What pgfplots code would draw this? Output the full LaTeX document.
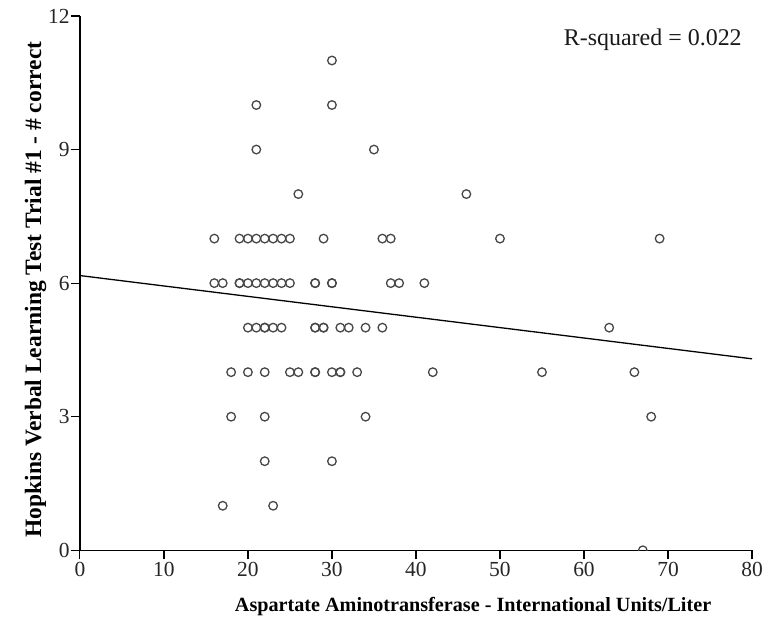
\documentclass[border=0pt]{standalone}
\usepackage{fontspec}
\setmainfont{Liberation Serif}
\usepackage{pgfplots}
\pgfplotsset{compat=1.18}
\begin{document}
\begin{tikzpicture}
\begin{axis}[
  width=673pt, height=535pt, scale only axis,
  xmin=0, xmax=80, ymin=0, ymax=12,
  enlargelimits=false,
  axis lines=left,
  axis line style={-, line width=1.3pt, black},
  xtick={0,10,...,80}, ytick={0,3,6,9,12},
  tick align=outside,
  major tick length=9pt,
  tick style={line width=1.2pt, black},
  /pgf/number format/assume math mode=true,
  tick label style={font=\fontsize{21.5}{22}\selectfont, text=black!85, inner sep=1pt},
  xticklabel style={yshift=-2pt},
  yticklabel style={xshift=0pt},
  xlabel={Aspartate Aminotransferase - International Units/Liter},
  ylabel={Hopkins Verbal Learning Test Trial \#1 - \# correct},
  xlabel style={at={(axis description cs:0.585,-0.105)}, anchor=center, font=\bfseries\fontsize{20.2}{24}\selectfont},
  ylabel style={at={(axis description cs:-0.066,0.488)}, anchor=center, font=\bfseries\fontsize{23.5}{26}\selectfont},
  clip marker paths=true,
]
\addplot[only marks, mark=o, mark size=4.3pt, mark options={line width=1.3pt, draw=black!72}] coordinates {
 (67,0)
 (17,1) (23,1)
 (22,2) (30,2)
 (18,3) (22,3) (34,3) (68,3)
 (18,4) (20,4) (22,4) (25,4) (26,4) (28,4) (28,4) (30,4) (31,4) (31,4) (33,4) (42,4) (55,4) (66,4)
 (20,5) (21,5) (22,5) (22,5) (23,5) (24,5) (28,5) (28,5) (29,5) (29,5) (31,5) (32,5) (34,5) (36,5) (63,5)
 (16,6) (17,6) (19,6) (19,6) (20,6) (21,6) (22,6) (23,6) (24,6) (25,6) (28,6) (28,6) (30,6) (30,6) (37,6) (38,6) (41,6)
 (16,7) (19,7) (20,7) (21,7) (22,7) (23,7) (24,7) (25,7) (29,7) (36,7) (37,7) (50,7) (69,7)
 (26,8) (46,8)
 (21,9) (35,9)
 (21,10) (30,10)
 (30,11)
};
\addplot[black, line width=1.3pt, no marks] coordinates {(0,6.17) (80,4.30)};
\node[anchor=east, inner sep=0pt, font=\fontsize{24}{26}\selectfont, text=black!90] at (axis cs:78.8,11.46) {R-squared = 0.022};
\end{axis}
\path ([shift={(-80pt,-80pt)}]current axis.south west) rectangle ([shift={(12pt,16pt)}]current axis.north east);
\end{tikzpicture}
\end{document}
